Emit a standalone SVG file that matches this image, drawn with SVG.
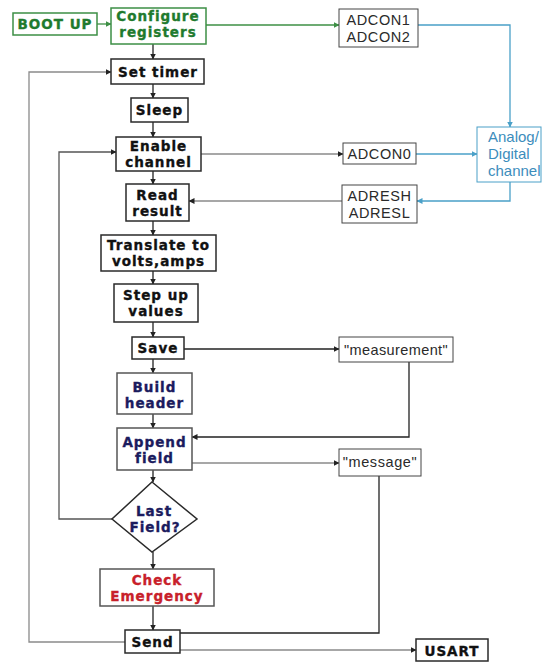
<svg xmlns="http://www.w3.org/2000/svg" width="543" height="662" viewBox="0 0 543 662">
  <style>
    .box { fill: #ffffff; stroke: #2a2a2a; stroke-width: 1.5; }
    .gbox { fill: #ffffff; stroke: #3d8f45; stroke-width: 1.5; }
    .rbox { fill: #ffffff; stroke: #444444; stroke-width: 1; }
    .abox { fill: #ffffff; stroke: #4aa0c8; stroke-width: 1; }
    .t { font-family: "DejaVu Sans", Verdana, sans-serif; font-weight: bold; font-size: 13.5px; text-anchor: middle; fill: #111111; stroke: #111111; stroke-width: 0.35px; letter-spacing: 1px; }
    .green { fill: #1f7a2e; stroke: #1f7a2e; }
    .navy { fill: #1b1b5e; stroke: #1b1b5e; }
    .red { fill: #c8202a; stroke: #c8202a; }
    .reg { font-family: "Liberation Sans", Arial, sans-serif; font-size: 14.5px; text-anchor: middle; fill: #2a2a2a; letter-spacing: 0.6px; }
    .adc { font-family: "Liberation Sans", Arial, sans-serif; font-size: 15px; fill: #3c8dbc; }
    .ln { fill: none; stroke: #222222; stroke-width: 1.3; }
    .lg { fill: none; stroke: #8a8a8a; stroke-width: 1.3; }
    .lgr { fill: none; stroke: #3d8f45; stroke-width: 1.3; }
    .lb { fill: none; stroke: #4aa0c8; stroke-width: 1.3; }
  </style>
  <defs>
    <marker id="ah" markerWidth="6" markerHeight="6" refX="5.5" refY="3" orient="auto" markerUnits="userSpaceOnUse">
      <path d="M0,0 L6,3 L0,6 Z" fill="#222222"/>
    </marker>
    <marker id="ahg" markerWidth="6" markerHeight="6" refX="5.5" refY="3" orient="auto" markerUnits="userSpaceOnUse">
      <path d="M0,0 L6,3 L0,6 Z" fill="#3d8f45"/>
    </marker>
    <marker id="ahb" markerWidth="6" markerHeight="6" refX="5.5" refY="3" orient="auto" markerUnits="userSpaceOnUse">
      <path d="M0,0 L6,3 L0,6 Z" fill="#4aa0c8"/>
    </marker>
  </defs>

  <rect width="543" height="662" fill="#ffffff"/>

  <!-- connectors -->
  <g id="connectors">
    <!-- main vertical flow -->
    <path class="ln" d="M153,44 V59" marker-end="url(#ah)"/>
    <path class="ln" d="M153,84 V98" marker-end="url(#ah)"/>
    <path class="ln" d="M153,122 V137" marker-end="url(#ah)"/>
    <path class="ln" d="M153,171 V184" marker-end="url(#ah)"/>
    <path class="ln" d="M153,221 V235" marker-end="url(#ah)"/>
    <path class="ln" d="M153,271 V284" marker-end="url(#ah)"/>
    <path class="ln" d="M153,322 V337" marker-end="url(#ah)"/>
    <path class="ln" d="M153,359 V373" marker-end="url(#ah)"/>
    <path class="ln" d="M153,414 V428" marker-end="url(#ah)"/>
    <path class="ln" d="M153,470 V482" marker-end="url(#ah)"/>
    <path class="ln" d="M153,552 V569" marker-end="url(#ah)"/>
    <path class="ln" d="M153,606 V630" marker-end="url(#ah)"/>

    <!-- boot and register setup -->
    <path class="lgr" d="M97,24 H111" marker-end="url(#ahg)"/>
    <path class="lgr" d="M206,25 H339" marker-end="url(#ahg)"/>
    <path class="lb" d="M418,25 H510 V127" marker-end="url(#ahb)"/>

    <!-- channel select and result -->
    <path class="lg" d="M201,154 H343" marker-end="url(#ah)"/>
    <path class="lb" d="M416,154 H477" marker-end="url(#ahb)"/>
    <path class="lb" d="M510,182 V201 H417" marker-end="url(#ahb)"/>
    <path class="lg" d="M342,201 H189" marker-end="url(#ah)"/>

    <!-- measurement and message buffers -->
    <path class="ln" d="M184,349 H339" marker-end="url(#ah)"/>
    <path class="ln" d="M409,362 V437 H192" marker-end="url(#ah)"/>
    <path class="lg" d="M192,463 H339" marker-end="url(#ah)"/>
    <path class="ln" d="M379,476 V633 H180"/>
    <path class="lg" d="M180,650 H416" marker-end="url(#ah)"/>

    <!-- loops back -->
    <path class="ln" style="stroke:#555555" d="M112,519 H59 V152 H116" marker-end="url(#ah)"/>
    <path class="lg" d="M125,642 H29 V72 H111" marker-end="url(#ah)"/>
  </g>

  <!-- nodes -->
  <g id="boot-up">
    <rect class="gbox" x="13" y="13" width="84" height="22"/>
    <text class="t green" x="55" y="29">BOOT UP</text>
  </g>
  <g id="configure-registers">
    <rect class="gbox" x="111" y="8" width="95" height="36"/>
    <text class="t green" x="158" y="21">Configure</text>
    <text class="t green" x="158" y="36.5">registers</text>
  </g>
  <g id="adcon12">
    <rect class="rbox" x="339" y="9" width="79" height="38"/>
    <text class="reg" x="378.5" y="25">ADCON1</text>
    <text class="reg" x="378.5" y="41.5">ADCON2</text>
  </g>
  <g id="set-timer">
    <rect class="box" x="111" y="59" width="93" height="25"/>
    <text class="t" x="158" y="76.5">Set timer</text>
  </g>
  <g id="sleep">
    <rect class="box" x="131" y="98" width="57" height="24"/>
    <text class="t" x="159.5" y="115">Sleep</text>
  </g>
  <g id="enable-channel">
    <rect class="box" x="116" y="137" width="85" height="34"/>
    <text class="t" x="158.5" y="151">Enable</text>
    <text class="t" x="158.5" y="166.5">channel</text>
  </g>
  <g id="adcon0">
    <rect class="rbox" x="343" y="143" width="73" height="21"/>
    <text class="reg" x="379.5" y="159">ADCON0</text>
  </g>
  <g id="ad-channel">
    <rect class="abox" x="477" y="127" width="64" height="55"/>
    <text class="adc" x="488" y="142">Analog/</text>
    <text class="adc" x="488" y="159">Digital</text>
    <text class="adc" x="488" y="176">channel</text>
  </g>
  <g id="read-result">
    <rect class="box" x="126" y="184" width="63" height="37"/>
    <text class="t" x="157.5" y="200">Read</text>
    <text class="t" x="157.5" y="215.5">result</text>
  </g>
  <g id="adresh-adresl">
    <rect class="rbox" x="342" y="185" width="75" height="38"/>
    <text class="reg" x="379.5" y="201">ADRESH</text>
    <text class="reg" x="379.5" y="217.5">ADRESL</text>
  </g>
  <g id="translate">
    <rect class="box" x="101" y="235" width="115" height="36"/>
    <text class="t" x="158.5" y="250">Translate to</text>
    <text class="t" x="158.5" y="265.5">volts,amps</text>
  </g>
  <g id="step-up">
    <rect class="box" x="114" y="284" width="84" height="38"/>
    <text class="t" x="156" y="300">Step up</text>
    <text class="t" x="156" y="316">values</text>
  </g>
  <g id="save">
    <rect class="box" x="132" y="337" width="52" height="22"/>
    <text class="t" x="158" y="353">Save</text>
  </g>
  <g id="measurement">
    <rect class="rbox" x="339" y="337" width="114" height="25"/>
    <text class="reg" x="396" y="355" style="letter-spacing:0.4px">"measurement"</text>
  </g>
  <g id="build-header">
    <rect class="box" x="117" y="373" width="75" height="41" style="stroke:#555555"/>
    <text class="t navy" x="154.5" y="392">Build</text>
    <text class="t navy" x="154.5" y="407.5">header</text>
  </g>
  <g id="append-field">
    <rect class="box" x="117" y="428" width="75" height="42" style="stroke:#555555"/>
    <text class="t navy" x="154.5" y="447">Append</text>
    <text class="t navy" x="154.5" y="462.5">field</text>
  </g>
  <g id="message">
    <rect class="rbox" x="339" y="449" width="82" height="27"/>
    <text class="reg" x="380" y="467">"message"</text>
  </g>
  <g id="last-field">
    <polygon class="box" points="152,482 197,519 152,552 112,519"/>
    <text class="t navy" x="154" y="516">Last</text>
    <text class="t navy" x="155" y="531.5">Field?</text>
  </g>
  <g id="check-emergency">
    <rect class="box" x="100" y="569" width="114" height="37" style="stroke:#555555"/>
    <text class="t red" x="157" y="585">Check</text>
    <text class="t red" x="157" y="600.5">Emergency</text>
  </g>
  <g id="send">
    <rect class="box" x="125" y="630" width="55" height="23"/>
    <text class="t" x="152.5" y="646.5">Send</text>
  </g>
  <g id="usart">
    <rect class="box" x="416" y="639" width="72" height="22"/>
    <text class="t" x="452" y="655.5">USART</text>
  </g>
</svg>
